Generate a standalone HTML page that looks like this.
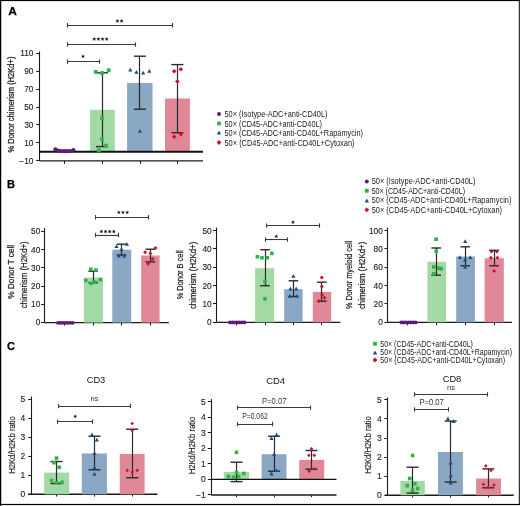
<!DOCTYPE html>
<html><head><meta charset="utf-8"><style>
html,body{margin:0;padding:0;background:#fff;}
svg{display:block;font-family:"Liberation Sans", sans-serif;}
</style></head><body><div style="will-change:transform;width:520px;height:506px">
<svg width="520" height="506" viewBox="0 0 520 506">
<rect x="0" y="0" width="520" height="506" fill="#fff"/>
<rect x="0" y="0" width="520" height="1.1" fill="#000"/>
<rect x="0" y="0" width="1.25" height="506" fill="#000"/>
<rect x="518.8" y="0" width="1.0" height="505" fill="#000"/>
<rect x="0" y="503.9" width="519.8" height="1.2000000000000455" fill="#000"/>
<text x="8.3" y="14.8" font-size="11" text-anchor="start" fill="#000" stroke="#000" stroke-width="0.25" font-weight="bold" textLength="8.6" lengthAdjust="spacingAndGlyphs">A</text>
<line x1="39.5" y1="51.5" x2="39.5" y2="160.9" stroke="#1a1a1a" stroke-width="1.1"/>
<line x1="36.2" y1="53.5" x2="39.5" y2="53.5" stroke="#1a1a1a" stroke-width="1.0"/>
<text x="33.4" y="56.16300000000001" font-size="8.3" text-anchor="end" fill="#1a1a1a" stroke="#1a1a1a" stroke-width="0.12">110</text>
<line x1="36.2" y1="71.5" x2="39.5" y2="71.5" stroke="#1a1a1a" stroke-width="1.0"/>
<text x="33.4" y="74.11300000000001" font-size="8.3" text-anchor="end" fill="#1a1a1a" stroke="#1a1a1a" stroke-width="0.12">90</text>
<line x1="36.2" y1="89.5" x2="39.5" y2="89.5" stroke="#1a1a1a" stroke-width="1.0"/>
<text x="33.4" y="92.06300000000002" font-size="8.3" text-anchor="end" fill="#1a1a1a" stroke="#1a1a1a" stroke-width="0.12">70</text>
<line x1="36.2" y1="107.5" x2="39.5" y2="107.5" stroke="#1a1a1a" stroke-width="1.0"/>
<text x="33.4" y="110.013" font-size="8.3" text-anchor="end" fill="#1a1a1a" stroke="#1a1a1a" stroke-width="0.12">50</text>
<line x1="36.2" y1="124.5" x2="39.5" y2="124.5" stroke="#1a1a1a" stroke-width="1.0"/>
<text x="33.4" y="127.96300000000001" font-size="8.3" text-anchor="end" fill="#1a1a1a" stroke="#1a1a1a" stroke-width="0.12">30</text>
<line x1="36.2" y1="142.5" x2="39.5" y2="142.5" stroke="#1a1a1a" stroke-width="1.0"/>
<text x="33.4" y="145.913" font-size="8.3" text-anchor="end" fill="#1a1a1a" stroke="#1a1a1a" stroke-width="0.12">10</text>
<line x1="36.2" y1="160.5" x2="39.5" y2="160.5" stroke="#1a1a1a" stroke-width="1.0"/>
<text x="33.4" y="163.863" font-size="8.3" text-anchor="end" fill="#1a1a1a" stroke="#1a1a1a" stroke-width="0.12">−10</text>
<line x1="39.5" y1="160.9" x2="203" y2="160.9" stroke="#1a1a1a" stroke-width="1.3"/>
<line x1="64.5" y1="160.9" x2="64.5" y2="163.9" stroke="#1a1a1a" stroke-width="1.0"/>
<line x1="102.5" y1="160.9" x2="102.5" y2="163.9" stroke="#1a1a1a" stroke-width="1.0"/>
<line x1="140.5" y1="160.9" x2="140.5" y2="163.9" stroke="#1a1a1a" stroke-width="1.0"/>
<line x1="177.5" y1="160.9" x2="177.5" y2="163.9" stroke="#1a1a1a" stroke-width="1.0"/>
<rect x="90.1" y="109.8" width="24.700000000000003" height="42.10000000000001" fill="#a3d9a5"/>
<rect x="127.1" y="82.9" width="25.400000000000006" height="69.0" fill="#8aa7c4"/>
<rect x="165" y="98.5" width="24.900000000000006" height="53.400000000000006" fill="#e08898"/>
<line x1="39.5" y1="151.8" x2="203" y2="151.8" stroke="#111" stroke-width="1.9"/>
<line x1="102.5" y1="72.8" x2="102.5" y2="146.6" stroke="#2a2a2a" stroke-width="1.2"/>
<line x1="96" y1="72.8" x2="108" y2="72.8" stroke="#2a2a2a" stroke-width="1.4"/>
<line x1="96" y1="146.6" x2="108" y2="146.6" stroke="#2a2a2a" stroke-width="1.4"/>
<line x1="139.5" y1="56.2" x2="139.5" y2="109.2" stroke="#2a2a2a" stroke-width="1.2"/>
<line x1="133.9" y1="56.2" x2="145.9" y2="56.2" stroke="#2a2a2a" stroke-width="1.4"/>
<line x1="133.9" y1="109.2" x2="145.9" y2="109.2" stroke="#2a2a2a" stroke-width="1.4"/>
<line x1="177.5" y1="64.6" x2="177.5" y2="132.7" stroke="#2a2a2a" stroke-width="1.2"/>
<line x1="171.4" y1="64.6" x2="183.4" y2="64.6" stroke="#2a2a2a" stroke-width="1.4"/>
<line x1="171.4" y1="132.7" x2="183.4" y2="132.7" stroke="#2a2a2a" stroke-width="1.4"/>
<circle cx="55.4" cy="149.3" r="2.1" fill="#5a1e78"/>
<circle cx="58.4" cy="150.6" r="2.1" fill="#5a1e78"/>
<circle cx="61.4" cy="151" r="2.1" fill="#5a1e78"/>
<circle cx="64.4" cy="151.2" r="2.1" fill="#5a1e78"/>
<circle cx="67.4" cy="151.2" r="2.1" fill="#5a1e78"/>
<circle cx="70.4" cy="151" r="2.1" fill="#5a1e78"/>
<circle cx="73.4" cy="150.2" r="2.1" fill="#5a1e78"/>
<rect x="93.89999999999999" y="70.0" width="3.8" height="3.8" fill="#2fb34a"/>
<rect x="100.1" y="71.1" width="3.8" height="3.8" fill="#2fb34a"/>
<rect x="106.8" y="68.39999999999999" width="3.8" height="3.8" fill="#2fb34a"/>
<rect x="100.1" y="116.39999999999999" width="3.8" height="3.8" fill="#2fb34a"/>
<rect x="100.1" y="137.1" width="3.8" height="3.8" fill="#2fb34a"/>
<rect x="104.1" y="143.7" width="3.8" height="3.8" fill="#2fb34a"/>
<rect x="96.89999999999999" y="148.4" width="3.8" height="3.8" fill="#2fb34a"/>
<path d="M128.20000000000002 71.49 L132.4 71.49 L130.3 67.71 Z" fill="#1b4f8e"/>
<path d="M134.3 73.79 L138.5 73.79 L136.4 70.01 Z" fill="#1b4f8e"/>
<path d="M141.0 74.49 L145.2 74.49 L143.1 70.71 Z" fill="#1b4f8e"/>
<path d="M147.20000000000002 72.69 L151.4 72.69 L149.3 68.91 Z" fill="#1b4f8e"/>
<path d="M137.8 132.79 L142.0 132.79 L139.9 129.01000000000002 Z" fill="#1b4f8e"/>
<path d="M174.2 69.0 L176.5 71.3 L174.2 73.6 L171.89999999999998 71.3 Z" fill="#cf1029"/>
<path d="M180.8 66.9 L183.10000000000002 69.2 L180.8 71.5 L178.5 69.2 Z" fill="#cf1029"/>
<path d="M177.4 79.2 L179.70000000000002 81.5 L177.4 83.8 L175.1 81.5 Z" fill="#cf1029"/>
<path d="M174.2 134.5 L176.5 136.8 L174.2 139.10000000000002 L171.89999999999998 136.8 Z" fill="#cf1029"/>
<path d="M180.8 131.79999999999998 L183.10000000000002 134.1 L180.8 136.4 L178.5 134.1 Z" fill="#cf1029"/>
<line x1="67.6" y1="25.5" x2="172.4" y2="25.5" stroke="#3a3a3a" stroke-width="1.1"/>
<line x1="67.5" y1="23.0" x2="67.5" y2="27.4" stroke="#3a3a3a" stroke-width="1.1"/>
<line x1="172.5" y1="23.0" x2="172.5" y2="27.4" stroke="#3a3a3a" stroke-width="1.1"/>
<polygon points="117.42,18.95 117.98,20.23 119.37,20.37 118.33,21.29 118.63,22.66 117.42,21.95 116.22,22.66 116.52,21.29 115.48,20.37 116.87,20.23" fill="#1a1a1a"/>
<polygon points="121.58,18.95 122.13,20.23 123.52,20.37 122.48,21.29 122.78,22.66 121.58,21.95 120.37,22.66 120.67,21.29 119.63,20.37 121.02,20.23" fill="#1a1a1a"/>
<line x1="67.6" y1="44.5" x2="135" y2="44.5" stroke="#3a3a3a" stroke-width="1.1"/>
<line x1="67.5" y1="42.3" x2="67.5" y2="46.7" stroke="#3a3a3a" stroke-width="1.1"/>
<line x1="135.5" y1="42.3" x2="135.5" y2="46.7" stroke="#3a3a3a" stroke-width="1.1"/>
<polygon points="94.28,36.95 94.83,38.23 96.22,38.37 95.18,39.29 95.48,40.66 94.28,39.95 93.07,40.66 93.37,39.29 92.33,38.37 93.72,38.23" fill="#1a1a1a"/>
<polygon points="98.42,36.95 98.98,38.23 100.37,38.37 99.33,39.29 99.63,40.66 98.42,39.95 97.22,40.66 97.52,39.29 96.48,38.37 97.87,38.23" fill="#1a1a1a"/>
<polygon points="102.58,36.95 103.13,38.23 104.52,38.37 103.48,39.29 103.78,40.66 102.58,39.95 101.37,40.66 101.67,39.29 100.63,38.37 102.02,38.23" fill="#1a1a1a"/>
<polygon points="106.72,36.95 107.28,38.23 108.67,38.37 107.63,39.29 107.93,40.66 106.72,39.95 105.52,40.66 105.82,39.29 104.78,38.37 106.17,38.23" fill="#1a1a1a"/>
<line x1="67.6" y1="61.5" x2="99.7" y2="61.5" stroke="#3a3a3a" stroke-width="1.1"/>
<line x1="67.5" y1="59.4" x2="67.5" y2="63.800000000000004" stroke="#3a3a3a" stroke-width="1.1"/>
<line x1="99.5" y1="59.4" x2="99.5" y2="63.800000000000004" stroke="#3a3a3a" stroke-width="1.1"/>
<polygon points="83.00,54.35 83.56,55.63 84.95,55.77 83.90,56.69 84.20,58.06 83.00,57.35 81.80,58.06 82.10,56.69 81.05,55.77 82.44,55.63" fill="#1a1a1a"/>
<text x="14.3" y="104.6" font-size="9.6" text-anchor="middle" fill="#222" stroke="#222" stroke-width="0.3" textLength="96" lengthAdjust="spacingAndGlyphs" transform="rotate(-90 14.3 104.6)">% Donor chimerism (H2Kd+)</text>
<circle cx="219" cy="114" r="2.0" fill="#5a1e78"/>
<text x="224.5" y="117.4" font-size="8.7" text-anchor="start" fill="#1a1a1a" textLength="103.0" lengthAdjust="spacingAndGlyphs">50× (Isotype-ADC+anti-CD40L)</text>
<rect x="217.1" y="121.6" width="3.8" height="3.8" fill="#2fb34a"/>
<text x="224.5" y="126.9" font-size="8.7" text-anchor="start" fill="#1a1a1a" textLength="97.5" lengthAdjust="spacingAndGlyphs">50× (CD45-ADC+anti-CD40L)</text>
<path d="M216.8 134.48 L221.2 134.48 L219 130.52 Z" fill="#1b4f8e"/>
<text x="224.5" y="135.9" font-size="8.7" text-anchor="start" fill="#1a1a1a" textLength="138.5" lengthAdjust="spacingAndGlyphs">50× (CD45-ADC+anti-CD40L+Rapamycin)</text>
<path d="M219 140.1 L221.4 142.5 L219 144.9 L216.6 142.5 Z" fill="#cf1029"/>
<text x="224.5" y="145.9" font-size="8.7" text-anchor="start" fill="#1a1a1a" textLength="130.0" lengthAdjust="spacingAndGlyphs">50× (CD45-ADC+anti-CD40L+Cytoxan)</text>
<text x="7" y="187.5" font-size="11" text-anchor="start" fill="#000" stroke="#000" stroke-width="0.25" font-weight="bold">B</text>
<line x1="44.5" y1="228.1" x2="44.5" y2="322.6" stroke="#1a1a1a" stroke-width="1.1"/>
<line x1="41.1" y1="231.5" x2="44.4" y2="231.5" stroke="#1a1a1a" stroke-width="1.0"/>
<text x="40.3" y="234.488" font-size="8.3" text-anchor="end" fill="#1a1a1a" stroke="#1a1a1a" stroke-width="0.12">50</text>
<line x1="41.1" y1="249.5" x2="44.4" y2="249.5" stroke="#1a1a1a" stroke-width="1.0"/>
<text x="40.3" y="252.688" font-size="8.3" text-anchor="end" fill="#1a1a1a" stroke="#1a1a1a" stroke-width="0.12">40</text>
<line x1="41.1" y1="267.5" x2="44.4" y2="267.5" stroke="#1a1a1a" stroke-width="1.0"/>
<text x="40.3" y="270.888" font-size="8.3" text-anchor="end" fill="#1a1a1a" stroke="#1a1a1a" stroke-width="0.12">30</text>
<line x1="41.1" y1="286.5" x2="44.4" y2="286.5" stroke="#1a1a1a" stroke-width="1.0"/>
<text x="40.3" y="289.088" font-size="8.3" text-anchor="end" fill="#1a1a1a" stroke="#1a1a1a" stroke-width="0.12">20</text>
<line x1="41.1" y1="304.5" x2="44.4" y2="304.5" stroke="#1a1a1a" stroke-width="1.0"/>
<text x="40.3" y="307.288" font-size="8.3" text-anchor="end" fill="#1a1a1a" stroke="#1a1a1a" stroke-width="0.12">10</text>
<line x1="41.1" y1="322.5" x2="44.4" y2="322.5" stroke="#1a1a1a" stroke-width="1.0"/>
<text x="40.3" y="325.488" font-size="8.3" text-anchor="end" fill="#1a1a1a" stroke="#1a1a1a" stroke-width="0.12">0</text>
<line x1="44.4" y1="322.6" x2="168.75" y2="322.6" stroke="#1a1a1a" stroke-width="1.3"/>
<line x1="64.5" y1="322.6" x2="64.5" y2="325.6" stroke="#1a1a1a" stroke-width="1.0"/>
<line x1="93.5" y1="322.6" x2="93.5" y2="325.6" stroke="#1a1a1a" stroke-width="1.0"/>
<line x1="121.5" y1="322.6" x2="121.5" y2="325.6" stroke="#1a1a1a" stroke-width="1.0"/>
<line x1="150.5" y1="322.6" x2="150.5" y2="325.6" stroke="#1a1a1a" stroke-width="1.0"/>
<rect x="83.9" y="277.6" width="19.19999999999999" height="45.0" fill="#a3d9a5"/>
<rect x="112.3" y="249.7" width="18.89999999999999" height="72.90000000000003" fill="#8aa7c4"/>
<rect x="141.2" y="255.5" width="18.400000000000006" height="67.10000000000002" fill="#e08898"/>
<line x1="93.5" y1="271.2" x2="93.5" y2="282.7" stroke="#2a2a2a" stroke-width="1.2"/>
<line x1="88.4" y1="271.2" x2="98.0" y2="271.2" stroke="#2a2a2a" stroke-width="1.4"/>
<line x1="88.4" y1="282.7" x2="98.0" y2="282.7" stroke="#2a2a2a" stroke-width="1.4"/>
<line x1="121.5" y1="244.2" x2="121.5" y2="255" stroke="#2a2a2a" stroke-width="1.2"/>
<line x1="116.7" y1="244.2" x2="126.3" y2="244.2" stroke="#2a2a2a" stroke-width="1.4"/>
<line x1="116.7" y1="255" x2="126.3" y2="255" stroke="#2a2a2a" stroke-width="1.4"/>
<line x1="150.5" y1="249.2" x2="150.5" y2="261.9" stroke="#2a2a2a" stroke-width="1.2"/>
<line x1="145.6" y1="249.2" x2="155.20000000000002" y2="249.2" stroke="#2a2a2a" stroke-width="1.4"/>
<line x1="145.6" y1="261.9" x2="155.20000000000002" y2="261.9" stroke="#2a2a2a" stroke-width="1.4"/>
<circle cx="58.0" cy="322.8" r="1.9" fill="#5a1e78"/>
<circle cx="60.45" cy="322.8" r="1.9" fill="#5a1e78"/>
<circle cx="62.9" cy="322.8" r="1.9" fill="#5a1e78"/>
<circle cx="65.35" cy="322.8" r="1.9" fill="#5a1e78"/>
<circle cx="67.8" cy="322.8" r="1.9" fill="#5a1e78"/>
<circle cx="70.25" cy="322.8" r="1.9" fill="#5a1e78"/>
<circle cx="72.7" cy="322.8" r="1.9" fill="#5a1e78"/>
<rect x="89.0" y="267.5" width="3.6" height="3.6" fill="#2fb34a"/>
<rect x="94.10000000000001" y="268.2" width="3.6" height="3.6" fill="#2fb34a"/>
<rect x="84.0" y="278.59999999999997" width="3.6" height="3.6" fill="#2fb34a"/>
<rect x="98.5" y="277.9" width="3.6" height="3.6" fill="#2fb34a"/>
<rect x="89.3" y="281.59999999999997" width="3.6" height="3.6" fill="#2fb34a"/>
<rect x="93.2" y="280.4" width="3.6" height="3.6" fill="#2fb34a"/>
<path d="M114.4 248.08999999999997 L118.6 248.08999999999997 L116.5 244.31 Z" fill="#1b4f8e"/>
<path d="M124.80000000000001 245.79 L129.0 245.79 L126.9 242.01000000000002 Z" fill="#1b4f8e"/>
<path d="M119.4 250.69 L123.6 250.69 L121.5 246.91000000000003 Z" fill="#1b4f8e"/>
<path d="M116.7 257.59 L120.89999999999999 257.59 L118.8 253.81 Z" fill="#1b4f8e"/>
<path d="M122.2 257.59 L126.39999999999999 257.59 L124.3 253.81 Z" fill="#1b4f8e"/>
<path d="M155.5 246.1 L157.5 248.1 L155.5 250.1 L153.5 248.1 Z" fill="#cf1029"/>
<path d="M145.1 250.2 L147.1 252.2 L145.1 254.2 L143.1 252.2 Z" fill="#cf1029"/>
<path d="M150.4 251.4 L152.4 253.4 L150.4 255.4 L148.4 253.4 Z" fill="#cf1029"/>
<path d="M152.7 256.9 L154.7 258.9 L152.7 260.9 L150.7 258.9 Z" fill="#cf1029"/>
<path d="M148.1 261.8 L150.1 263.8 L148.1 265.8 L146.1 263.8 Z" fill="#cf1029"/>
<line x1="95.6" y1="217.5" x2="148.75" y2="217.5" stroke="#3a3a3a" stroke-width="1.1"/>
<line x1="95.5" y1="215.05" x2="95.5" y2="219.45" stroke="#3a3a3a" stroke-width="1.1"/>
<line x1="148.5" y1="215.05" x2="148.5" y2="219.45" stroke="#3a3a3a" stroke-width="1.1"/>
<polygon points="118.85,210.35 119.41,211.63 120.80,211.77 119.75,212.69 120.05,214.06 118.85,213.35 117.65,214.06 117.95,212.69 116.90,211.77 118.29,211.63" fill="#1a1a1a"/>
<polygon points="123.00,210.35 123.56,211.63 124.95,211.77 123.90,212.69 124.20,214.06 123.00,213.35 121.80,214.06 122.10,212.69 121.05,211.77 122.44,211.63" fill="#1a1a1a"/>
<polygon points="127.15,210.35 127.71,211.63 129.10,211.77 128.05,212.69 128.35,214.06 127.15,213.35 125.95,214.06 126.25,212.69 125.20,211.77 126.59,211.63" fill="#1a1a1a"/>
<line x1="95.6" y1="235.5" x2="118.5" y2="235.5" stroke="#3a3a3a" stroke-width="1.1"/>
<line x1="95.5" y1="232.8" x2="95.5" y2="237.2" stroke="#3a3a3a" stroke-width="1.1"/>
<line x1="118.5" y1="232.8" x2="118.5" y2="237.2" stroke="#3a3a3a" stroke-width="1.1"/>
<polygon points="101.38,229.45 101.93,230.73 103.32,230.87 102.28,231.79 102.58,233.16 101.38,232.45 100.17,233.16 100.47,231.79 99.43,230.87 100.82,230.73" fill="#1a1a1a"/>
<polygon points="105.52,229.45 106.08,230.73 107.47,230.87 106.43,231.79 106.73,233.16 105.52,232.45 104.32,233.16 104.62,231.79 103.58,230.87 104.97,230.73" fill="#1a1a1a"/>
<polygon points="109.67,229.45 110.23,230.73 111.62,230.87 110.58,231.79 110.88,233.16 109.67,232.45 108.47,233.16 108.77,231.79 107.73,230.87 109.12,230.73" fill="#1a1a1a"/>
<polygon points="113.82,229.45 114.38,230.73 115.77,230.87 114.73,231.79 115.03,233.16 113.82,232.45 112.62,233.16 112.92,231.79 111.88,230.87 113.27,230.73" fill="#1a1a1a"/>
<text x="14.399999999999999" y="271.8" font-size="9.8" text-anchor="middle" fill="#222" stroke="#222" stroke-width="0.25" textLength="54" lengthAdjust="spacingAndGlyphs" transform="rotate(-90 14.399999999999999 271.8)">% Donor T cell</text>
<text x="26.9" y="274.8" font-size="9.8" text-anchor="middle" fill="#222" stroke="#222" stroke-width="0.25" textLength="67" lengthAdjust="spacingAndGlyphs" transform="rotate(-90 26.9 274.8)">chimerism (H2Kd+)</text>
<line x1="216.5" y1="227.6" x2="216.5" y2="322.3" stroke="#1a1a1a" stroke-width="1.1"/>
<line x1="213.0" y1="230.5" x2="216.3" y2="230.5" stroke="#1a1a1a" stroke-width="1.0"/>
<text x="211.7" y="233.58799999999997" font-size="8.3" text-anchor="end" fill="#1a1a1a" stroke="#1a1a1a" stroke-width="0.12">50</text>
<line x1="213.0" y1="248.5" x2="216.3" y2="248.5" stroke="#1a1a1a" stroke-width="1.0"/>
<text x="211.7" y="251.908" font-size="8.3" text-anchor="end" fill="#1a1a1a" stroke="#1a1a1a" stroke-width="0.12">40</text>
<line x1="213.0" y1="267.5" x2="216.3" y2="267.5" stroke="#1a1a1a" stroke-width="1.0"/>
<text x="211.7" y="270.228" font-size="8.3" text-anchor="end" fill="#1a1a1a" stroke="#1a1a1a" stroke-width="0.12">30</text>
<line x1="213.0" y1="285.5" x2="216.3" y2="285.5" stroke="#1a1a1a" stroke-width="1.0"/>
<text x="211.7" y="288.548" font-size="8.3" text-anchor="end" fill="#1a1a1a" stroke="#1a1a1a" stroke-width="0.12">20</text>
<line x1="213.0" y1="303.5" x2="216.3" y2="303.5" stroke="#1a1a1a" stroke-width="1.0"/>
<text x="211.7" y="306.868" font-size="8.3" text-anchor="end" fill="#1a1a1a" stroke="#1a1a1a" stroke-width="0.12">10</text>
<line x1="213.0" y1="322.5" x2="216.3" y2="322.5" stroke="#1a1a1a" stroke-width="1.0"/>
<text x="211.7" y="325.188" font-size="8.3" text-anchor="end" fill="#1a1a1a" stroke="#1a1a1a" stroke-width="0.12">0</text>
<line x1="216.3" y1="322.3" x2="340.4" y2="322.3" stroke="#1a1a1a" stroke-width="1.3"/>
<line x1="236.5" y1="322.3" x2="236.5" y2="325.3" stroke="#1a1a1a" stroke-width="1.0"/>
<line x1="265.5" y1="322.3" x2="265.5" y2="325.3" stroke="#1a1a1a" stroke-width="1.0"/>
<line x1="293.5" y1="322.3" x2="293.5" y2="325.3" stroke="#1a1a1a" stroke-width="1.0"/>
<line x1="321.5" y1="322.3" x2="321.5" y2="325.3" stroke="#1a1a1a" stroke-width="1.0"/>
<rect x="255.1" y="268.2" width="19.099999999999994" height="54.10000000000002" fill="#a3d9a5"/>
<rect x="284.2" y="289.2" width="18.400000000000034" height="33.10000000000002" fill="#8aa7c4"/>
<rect x="312.8" y="291.9" width="18.399999999999977" height="30.400000000000034" fill="#e08898"/>
<line x1="265.5" y1="249.7" x2="265.5" y2="285.7" stroke="#2a2a2a" stroke-width="1.2"/>
<line x1="260.2" y1="249.7" x2="269.8" y2="249.7" stroke="#2a2a2a" stroke-width="1.4"/>
<line x1="260.2" y1="285.7" x2="269.8" y2="285.7" stroke="#2a2a2a" stroke-width="1.4"/>
<line x1="293.5" y1="280.8" x2="293.5" y2="296.5" stroke="#2a2a2a" stroke-width="1.2"/>
<line x1="288.59999999999997" y1="280.8" x2="298.2" y2="280.8" stroke="#2a2a2a" stroke-width="1.4"/>
<line x1="288.59999999999997" y1="296.5" x2="298.2" y2="296.5" stroke="#2a2a2a" stroke-width="1.4"/>
<line x1="321.5" y1="282.2" x2="321.5" y2="301.2" stroke="#2a2a2a" stroke-width="1.2"/>
<line x1="317.0" y1="282.2" x2="326.6" y2="282.2" stroke="#2a2a2a" stroke-width="1.4"/>
<line x1="317.0" y1="301.2" x2="326.6" y2="301.2" stroke="#2a2a2a" stroke-width="1.4"/>
<circle cx="230.0" cy="322.4" r="1.9" fill="#5a1e78"/>
<circle cx="232.4" cy="322.4" r="1.9" fill="#5a1e78"/>
<circle cx="234.8" cy="322.4" r="1.9" fill="#5a1e78"/>
<circle cx="237.2" cy="322.4" r="1.9" fill="#5a1e78"/>
<circle cx="239.6" cy="322.4" r="1.9" fill="#5a1e78"/>
<circle cx="242.0" cy="322.4" r="1.9" fill="#5a1e78"/>
<circle cx="244.4" cy="322.4" r="1.9" fill="#5a1e78"/>
<rect x="255.59999999999997" y="255.0" width="3.6" height="3.6" fill="#2fb34a"/>
<rect x="260.2" y="256.0" width="3.6" height="3.6" fill="#2fb34a"/>
<rect x="265.5" y="256.0" width="3.6" height="3.6" fill="#2fb34a"/>
<rect x="270.09999999999997" y="251.6" width="3.6" height="3.6" fill="#2fb34a"/>
<rect x="263.2" y="279.7" width="3.6" height="3.6" fill="#2fb34a"/>
<rect x="263.2" y="297.0" width="3.6" height="3.6" fill="#2fb34a"/>
<path d="M291.29999999999995 277.69 L295.5 277.69 L293.4 273.91 Z" fill="#1b4f8e"/>
<path d="M288.29999999999995 290.39 L292.5 290.39 L290.4 286.61 Z" fill="#1b4f8e"/>
<path d="M294.09999999999997 290.39 L298.3 290.39 L296.2 286.61 Z" fill="#1b4f8e"/>
<path d="M287.59999999999997 297.69 L291.8 297.69 L289.7 293.91 Z" fill="#1b4f8e"/>
<path d="M294.79999999999995 297.69 L299.0 297.69 L296.9 293.91 Z" fill="#1b4f8e"/>
<path d="M321.8 275.4 L323.8 277.4 L321.8 279.4 L319.8 277.4 Z" fill="#cf1029"/>
<path d="M321.8 284.6 L323.8 286.6 L321.8 288.6 L319.8 286.6 Z" fill="#cf1029"/>
<path d="M322.2 292.7 L324.2 294.7 L322.2 296.7 L320.2 294.7 Z" fill="#cf1029"/>
<path d="M324.5 295.7 L326.5 297.7 L324.5 299.7 L322.5 297.7 Z" fill="#cf1029"/>
<path d="M318.8 299.2 L320.8 301.2 L318.8 303.2 L316.8 301.2 Z" fill="#cf1029"/>
<line x1="266.5" y1="225.5" x2="319.25" y2="225.5" stroke="#3a3a3a" stroke-width="1.1"/>
<line x1="266.5" y1="223.4" x2="266.5" y2="227.79999999999998" stroke="#3a3a3a" stroke-width="1.1"/>
<line x1="319.5" y1="223.4" x2="319.5" y2="227.79999999999998" stroke="#3a3a3a" stroke-width="1.1"/>
<polygon points="293.00,220.15 293.56,221.43 294.95,221.57 293.90,222.49 294.20,223.86 293.00,223.15 291.80,223.86 292.10,222.49 291.05,221.57 292.44,221.43" fill="#1a1a1a"/>
<line x1="265.5" y1="239.5" x2="287.5" y2="239.5" stroke="#3a3a3a" stroke-width="1.1"/>
<line x1="265.5" y1="237.4" x2="265.5" y2="241.79999999999998" stroke="#3a3a3a" stroke-width="1.1"/>
<line x1="287.5" y1="237.4" x2="287.5" y2="241.79999999999998" stroke="#3a3a3a" stroke-width="1.1"/>
<polygon points="276.30,234.35 276.86,235.63 278.25,235.77 277.20,236.69 277.50,238.06 276.30,237.35 275.10,238.06 275.40,236.69 274.35,235.77 275.74,235.63" fill="#1a1a1a"/>
<text x="183.0" y="274.8" font-size="9.8" text-anchor="middle" fill="#222" stroke="#222" stroke-width="0.25" textLength="49" lengthAdjust="spacingAndGlyphs" transform="rotate(-90 183.0 274.8)">% Donor B cell</text>
<text x="196.0" y="275.4" font-size="9.8" text-anchor="middle" fill="#222" stroke="#222" stroke-width="0.25" textLength="67.4" lengthAdjust="spacingAndGlyphs" transform="rotate(-90 196.0 275.4)">chimerism (H2Kd+)</text>
<line x1="387.5" y1="227.6" x2="387.5" y2="322.3" stroke="#1a1a1a" stroke-width="1.1"/>
<line x1="384.5" y1="230.5" x2="387.8" y2="230.5" stroke="#1a1a1a" stroke-width="1.0"/>
<text x="382.8" y="233.58799999999997" font-size="8.3" text-anchor="end" fill="#1a1a1a" stroke="#1a1a1a" stroke-width="0.12">100</text>
<line x1="384.5" y1="248.5" x2="387.8" y2="248.5" stroke="#1a1a1a" stroke-width="1.0"/>
<text x="382.8" y="251.908" font-size="8.3" text-anchor="end" fill="#1a1a1a" stroke="#1a1a1a" stroke-width="0.12">80</text>
<line x1="384.5" y1="267.5" x2="387.8" y2="267.5" stroke="#1a1a1a" stroke-width="1.0"/>
<text x="382.8" y="270.228" font-size="8.3" text-anchor="end" fill="#1a1a1a" stroke="#1a1a1a" stroke-width="0.12">60</text>
<line x1="384.5" y1="285.5" x2="387.8" y2="285.5" stroke="#1a1a1a" stroke-width="1.0"/>
<text x="382.8" y="288.548" font-size="8.3" text-anchor="end" fill="#1a1a1a" stroke="#1a1a1a" stroke-width="0.12">40</text>
<line x1="384.5" y1="303.5" x2="387.8" y2="303.5" stroke="#1a1a1a" stroke-width="1.0"/>
<text x="382.8" y="306.868" font-size="8.3" text-anchor="end" fill="#1a1a1a" stroke="#1a1a1a" stroke-width="0.12">20</text>
<line x1="384.5" y1="322.5" x2="387.8" y2="322.5" stroke="#1a1a1a" stroke-width="1.0"/>
<text x="382.8" y="325.188" font-size="8.3" text-anchor="end" fill="#1a1a1a" stroke="#1a1a1a" stroke-width="0.12">0</text>
<line x1="387.8" y1="322.3" x2="512" y2="322.3" stroke="#1a1a1a" stroke-width="1.3"/>
<line x1="407.5" y1="322.3" x2="407.5" y2="325.3" stroke="#1a1a1a" stroke-width="1.0"/>
<line x1="436.5" y1="322.3" x2="436.5" y2="325.3" stroke="#1a1a1a" stroke-width="1.0"/>
<line x1="465.5" y1="322.3" x2="465.5" y2="325.3" stroke="#1a1a1a" stroke-width="1.0"/>
<line x1="494.5" y1="322.3" x2="494.5" y2="325.3" stroke="#1a1a1a" stroke-width="1.0"/>
<rect x="427.4" y="261.8" width="18.700000000000045" height="60.5" fill="#a3d9a5"/>
<rect x="456.2" y="256.5" width="18.69999999999999" height="65.80000000000001" fill="#8aa7c4"/>
<rect x="484.6" y="258.2" width="19.19999999999999" height="64.10000000000002" fill="#e08898"/>
<line x1="436.5" y1="248" x2="436.5" y2="275.2" stroke="#2a2a2a" stroke-width="1.2"/>
<line x1="431.4" y1="248" x2="441.0" y2="248" stroke="#2a2a2a" stroke-width="1.4"/>
<line x1="431.4" y1="275.2" x2="441.0" y2="275.2" stroke="#2a2a2a" stroke-width="1.4"/>
<line x1="465.5" y1="246.8" x2="465.5" y2="265.8" stroke="#2a2a2a" stroke-width="1.2"/>
<line x1="460.4" y1="246.8" x2="470.0" y2="246.8" stroke="#2a2a2a" stroke-width="1.4"/>
<line x1="460.4" y1="265.8" x2="470.0" y2="265.8" stroke="#2a2a2a" stroke-width="1.4"/>
<line x1="494.5" y1="250.3" x2="494.5" y2="265.8" stroke="#2a2a2a" stroke-width="1.2"/>
<line x1="489.3" y1="250.3" x2="498.90000000000003" y2="250.3" stroke="#2a2a2a" stroke-width="1.4"/>
<line x1="489.3" y1="265.8" x2="498.90000000000003" y2="265.8" stroke="#2a2a2a" stroke-width="1.4"/>
<circle cx="401.3" cy="322.4" r="1.9" fill="#5a1e78"/>
<circle cx="403.7" cy="322.4" r="1.9" fill="#5a1e78"/>
<circle cx="406.1" cy="322.4" r="1.9" fill="#5a1e78"/>
<circle cx="408.5" cy="322.4" r="1.9" fill="#5a1e78"/>
<circle cx="410.90000000000003" cy="322.4" r="1.9" fill="#5a1e78"/>
<circle cx="413.3" cy="322.4" r="1.9" fill="#5a1e78"/>
<circle cx="415.7" cy="322.4" r="1.9" fill="#5a1e78"/>
<rect x="434.4" y="237.39999999999998" width="3.6" height="3.6" fill="#2fb34a"/>
<rect x="434.4" y="249.39999999999998" width="3.6" height="3.6" fill="#2fb34a"/>
<rect x="432.0" y="265.09999999999997" width="3.6" height="3.6" fill="#2fb34a"/>
<rect x="437.09999999999997" y="266.3" width="3.6" height="3.6" fill="#2fb34a"/>
<rect x="439.4" y="267.0" width="3.6" height="3.6" fill="#2fb34a"/>
<rect x="432.0" y="272.0" width="3.6" height="3.6" fill="#2fb34a"/>
<path d="M463.09999999999997 242.98999999999998 L467.3 242.98999999999998 L465.2 239.21 Z" fill="#1b4f8e"/>
<path d="M457.79999999999995 259.09 L462.0 259.09 L459.9 255.31 Z" fill="#1b4f8e"/>
<path d="M462.9 261.39 L467.1 261.39 L465 257.61 Z" fill="#1b4f8e"/>
<path d="M468.2 259.09 L472.40000000000003 259.09 L470.3 255.31 Z" fill="#1b4f8e"/>
<path d="M463.09999999999997 268.78999999999996 L467.3 268.78999999999996 L465.2 265.01 Z" fill="#1b4f8e"/>
<path d="M491.5 249.5 L493.5 251.5 L491.5 253.5 L489.5 251.5 Z" fill="#cf1029"/>
<path d="M496.9 249.5 L498.9 251.5 L496.9 253.5 L494.9 251.5 Z" fill="#cf1029"/>
<path d="M490.9 255.7 L492.9 257.7 L490.9 259.7 L488.9 257.7 Z" fill="#cf1029"/>
<path d="M497.3 255.7 L499.3 257.7 L497.3 259.7 L495.3 257.7 Z" fill="#cf1029"/>
<path d="M494.1 269.1 L496.1 271.1 L494.1 273.1 L492.1 271.1 Z" fill="#cf1029"/>
<text x="352.3" y="274.9" font-size="9.8" text-anchor="middle" fill="#222" stroke="#222" stroke-width="0.25" textLength="68.4" lengthAdjust="spacingAndGlyphs" transform="rotate(-90 352.3 274.9)">% Donor myeloid cell</text>
<text x="365.4" y="275.4" font-size="9.8" text-anchor="middle" fill="#222" stroke="#222" stroke-width="0.25" textLength="67.4" lengthAdjust="spacingAndGlyphs" transform="rotate(-90 365.4 275.4)">chimerism (H2Kd+)</text>
<circle cx="366.8" cy="181.5" r="2.0" fill="#5a1e78"/>
<text x="371.7" y="184.3" font-size="8.7" text-anchor="start" fill="#1a1a1a" textLength="103.69999999999999" lengthAdjust="spacingAndGlyphs">50× (Isotype-ADC+anti-CD40L)</text>
<rect x="364.90000000000003" y="188.9" width="3.8" height="3.8" fill="#2fb34a"/>
<text x="371.7" y="193.60000000000002" font-size="8.7" text-anchor="start" fill="#1a1a1a" textLength="93.30000000000001" lengthAdjust="spacingAndGlyphs">50× (CD45-ADC+anti-CD40L)</text>
<path d="M364.6 202.57999999999998 L369.0 202.57999999999998 L366.8 198.62 Z" fill="#1b4f8e"/>
<text x="371.7" y="203.4" font-size="8.7" text-anchor="start" fill="#1a1a1a" textLength="139.7" lengthAdjust="spacingAndGlyphs">50× (CD45-ADC+anti-CD40L+Rapamycin)</text>
<path d="M366.8 207.4 L369.2 209.8 L366.8 212.20000000000002 L364.40000000000003 209.8 Z" fill="#cf1029"/>
<text x="371.7" y="212.60000000000002" font-size="8.7" text-anchor="start" fill="#1a1a1a" textLength="130.3" lengthAdjust="spacingAndGlyphs">50× (CD45-ADC+anti-CD40L+Cytoxan)</text>
<text x="7" y="349.9" font-size="11" text-anchor="start" fill="#000" stroke="#000" stroke-width="0.25" font-weight="bold">C</text>
<rect x="373.1" y="341.90000000000003" width="3.8" height="3.8" fill="#2fb34a"/>
<text x="380.3" y="346.6" font-size="8.7" text-anchor="start" fill="#1a1a1a" textLength="92.59999999999997" lengthAdjust="spacingAndGlyphs">50× (CD45-ADC+anti-CD40L)</text>
<path d="M372.8 354.38 L377.2 354.38 L375 350.41999999999996 Z" fill="#1b4f8e"/>
<text x="380.3" y="355.2" font-size="8.7" text-anchor="start" fill="#1a1a1a" textLength="131.7" lengthAdjust="spacingAndGlyphs">50× (CD45-ADC+anti-CD40L+Rapamycin)</text>
<path d="M375 357.6 L377.4 360 L375 362.4 L372.6 360 Z" fill="#cf1029"/>
<text x="380.3" y="362.8" font-size="8.7" text-anchor="start" fill="#1a1a1a" textLength="124.89999999999998" lengthAdjust="spacingAndGlyphs">50× (CD45-ADC+anti-CD40L+Cytoxan)</text>
<text x="96" y="383" font-size="9.6" text-anchor="middle" fill="#111" textLength="18.6" lengthAdjust="spacingAndGlyphs">CD3</text>
<line x1="31.5" y1="396.5" x2="31.5" y2="494.3" stroke="#1a1a1a" stroke-width="1.1"/>
<line x1="28.2" y1="399.5" x2="31.5" y2="399.5" stroke="#1a1a1a" stroke-width="1.0"/>
<text x="25.2" y="402.36" font-size="8.5" text-anchor="end" fill="#1a1a1a" stroke="#1a1a1a" stroke-width="0.12">5</text>
<line x1="28.2" y1="418.5" x2="31.5" y2="418.5" stroke="#1a1a1a" stroke-width="1.0"/>
<text x="25.2" y="421.32" font-size="8.5" text-anchor="end" fill="#1a1a1a" stroke="#1a1a1a" stroke-width="0.12">4</text>
<line x1="28.2" y1="437.5" x2="31.5" y2="437.5" stroke="#1a1a1a" stroke-width="1.0"/>
<text x="25.2" y="440.28000000000003" font-size="8.5" text-anchor="end" fill="#1a1a1a" stroke="#1a1a1a" stroke-width="0.12">3</text>
<line x1="28.2" y1="456.5" x2="31.5" y2="456.5" stroke="#1a1a1a" stroke-width="1.0"/>
<text x="25.2" y="459.24" font-size="8.5" text-anchor="end" fill="#1a1a1a" stroke="#1a1a1a" stroke-width="0.12">2</text>
<line x1="28.2" y1="475.5" x2="31.5" y2="475.5" stroke="#1a1a1a" stroke-width="1.0"/>
<text x="25.2" y="478.20000000000005" font-size="8.5" text-anchor="end" fill="#1a1a1a" stroke="#1a1a1a" stroke-width="0.12">1</text>
<line x1="28.2" y1="494.5" x2="31.5" y2="494.5" stroke="#1a1a1a" stroke-width="1.0"/>
<text x="25.2" y="497.16" font-size="8.5" text-anchor="end" fill="#1a1a1a" stroke="#1a1a1a" stroke-width="0.12">0</text>
<line x1="28" y1="494.3" x2="157.5" y2="494.3" stroke="#1a1a1a" stroke-width="1.5"/>
<line x1="56.5" y1="494.3" x2="56.5" y2="496.6" stroke="#1a1a1a" stroke-width="1.0"/>
<line x1="94.5" y1="494.3" x2="94.5" y2="496.6" stroke="#1a1a1a" stroke-width="1.0"/>
<line x1="132.5" y1="494.3" x2="132.5" y2="496.6" stroke="#1a1a1a" stroke-width="1.0"/>
<rect x="44.2" y="472.6" width="25.0" height="21.69999999999999" fill="#a3d9a5"/>
<rect x="81.8" y="453.5" width="25.200000000000003" height="40.80000000000001" fill="#8aa7c4"/>
<rect x="119.7" y="453.9" width="24.89999999999999" height="40.400000000000034" fill="#e08898"/>
<line x1="56.5" y1="461.5" x2="56.5" y2="483.5" stroke="#2a2a2a" stroke-width="1.2"/>
<line x1="50.5" y1="461.5" x2="62.5" y2="461.5" stroke="#2a2a2a" stroke-width="1.4"/>
<line x1="50.5" y1="483.5" x2="62.5" y2="483.5" stroke="#2a2a2a" stroke-width="1.4"/>
<line x1="94.5" y1="436.2" x2="94.5" y2="469.8" stroke="#2a2a2a" stroke-width="1.2"/>
<line x1="88.5" y1="436.2" x2="100.5" y2="436.2" stroke="#2a2a2a" stroke-width="1.4"/>
<line x1="88.5" y1="469.8" x2="100.5" y2="469.8" stroke="#2a2a2a" stroke-width="1.4"/>
<line x1="132.5" y1="429.2" x2="132.5" y2="477.7" stroke="#2a2a2a" stroke-width="1.2"/>
<line x1="126.19999999999999" y1="429.2" x2="138.2" y2="429.2" stroke="#2a2a2a" stroke-width="1.4"/>
<line x1="126.19999999999999" y1="477.7" x2="138.2" y2="477.7" stroke="#2a2a2a" stroke-width="1.4"/>
<rect x="54.7" y="456.3" width="3.6" height="3.6" fill="#2fb34a"/>
<rect x="52.1" y="460.9" width="3.6" height="3.6" fill="#2fb34a"/>
<rect x="57.400000000000006" y="465.5" width="3.6" height="3.6" fill="#2fb34a"/>
<rect x="49.800000000000004" y="478.7" width="3.6" height="3.6" fill="#2fb34a"/>
<rect x="54.7" y="481.0" width="3.6" height="3.6" fill="#2fb34a"/>
<rect x="60.2" y="480.5" width="3.6" height="3.6" fill="#2fb34a"/>
<path d="M89.9 436.39 L94.1 436.39 L92 432.61 Z" fill="#1b4f8e"/>
<path d="M94.80000000000001 441.49 L99.0 441.49 L96.9 437.71000000000004 Z" fill="#1b4f8e"/>
<path d="M92.4 454.89 L96.6 454.89 L94.5 451.11 Z" fill="#1b4f8e"/>
<path d="M92.4 469.19 L96.6 469.19 L94.5 465.41 Z" fill="#1b4f8e"/>
<path d="M92.4 475.69 L96.6 475.69 L94.5 471.91 Z" fill="#1b4f8e"/>
<path d="M132.2 421.65 L134.04999999999998 423.5 L132.2 425.35 L130.35 423.5 Z" fill="#cf1029"/>
<path d="M132.2 428.54999999999995 L134.04999999999998 430.4 L132.2 432.25 L130.35 430.4 Z" fill="#cf1029"/>
<path d="M127.3 468.45 L129.15 470.3 L127.3 472.15000000000003 L125.45 470.3 Z" fill="#cf1029"/>
<path d="M137.2 468.45 L139.04999999999998 470.3 L137.2 472.15000000000003 L135.35 470.3 Z" fill="#cf1029"/>
<path d="M132.2 470.04999999999995 L134.04999999999998 471.9 L132.2 473.75 L130.35 471.9 Z" fill="#cf1029"/>
<line x1="58.5" y1="406.5" x2="130.5" y2="406.5" stroke="#3a3a3a" stroke-width="1.1"/>
<line x1="58.5" y1="403.8" x2="58.5" y2="408.2" stroke="#3a3a3a" stroke-width="1.1"/>
<line x1="130.5" y1="403.8" x2="130.5" y2="408.2" stroke="#3a3a3a" stroke-width="1.1"/>
<text x="94.5" y="401" font-size="7.6" text-anchor="middle" fill="#333">ns</text>
<line x1="57.9" y1="421.5" x2="92.1" y2="421.5" stroke="#3a3a3a" stroke-width="1.1"/>
<line x1="57.5" y1="419.5" x2="57.5" y2="423.9" stroke="#3a3a3a" stroke-width="1.1"/>
<line x1="92.5" y1="419.5" x2="92.5" y2="423.9" stroke="#3a3a3a" stroke-width="1.1"/>
<polygon points="75.20,414.35 75.76,415.63 77.15,415.77 76.10,416.69 76.40,418.06 75.20,417.35 74.00,418.06 74.30,416.69 73.25,415.77 74.64,415.63" fill="#1a1a1a"/>
<text x="15.2" y="445" font-size="9.6" text-anchor="middle" fill="#1a1a1a" stroke="#1a1a1a" stroke-width="0.15" textLength="57.7" lengthAdjust="spacingAndGlyphs" transform="rotate(-90 15.2 445)">H2Kd/H2Kb ratio</text>
<text x="275.6" y="383.7" font-size="9.6" text-anchor="middle" fill="#111" textLength="18.8" lengthAdjust="spacingAndGlyphs">CD4</text>
<line x1="211.5" y1="399.1" x2="211.5" y2="494.8" stroke="#1a1a1a" stroke-width="1.1"/>
<line x1="207.79999999999998" y1="401.5" x2="211.1" y2="401.5" stroke="#1a1a1a" stroke-width="1.0"/>
<text x="205.7" y="404.91" font-size="8.5" text-anchor="end" fill="#1a1a1a" stroke="#1a1a1a" stroke-width="0.12">5</text>
<line x1="207.79999999999998" y1="417.5" x2="211.1" y2="417.5" stroke="#1a1a1a" stroke-width="1.0"/>
<text x="205.7" y="420.36" font-size="8.5" text-anchor="end" fill="#1a1a1a" stroke="#1a1a1a" stroke-width="0.12">4</text>
<line x1="207.79999999999998" y1="432.5" x2="211.1" y2="432.5" stroke="#1a1a1a" stroke-width="1.0"/>
<text x="205.7" y="435.81" font-size="8.5" text-anchor="end" fill="#1a1a1a" stroke="#1a1a1a" stroke-width="0.12">3</text>
<line x1="207.79999999999998" y1="448.5" x2="211.1" y2="448.5" stroke="#1a1a1a" stroke-width="1.0"/>
<text x="205.7" y="451.26000000000005" font-size="8.5" text-anchor="end" fill="#1a1a1a" stroke="#1a1a1a" stroke-width="0.12">2</text>
<line x1="207.79999999999998" y1="463.5" x2="211.1" y2="463.5" stroke="#1a1a1a" stroke-width="1.0"/>
<text x="205.7" y="466.71000000000004" font-size="8.5" text-anchor="end" fill="#1a1a1a" stroke="#1a1a1a" stroke-width="0.12">1</text>
<line x1="207.79999999999998" y1="479.5" x2="211.1" y2="479.5" stroke="#1a1a1a" stroke-width="1.0"/>
<text x="205.7" y="482.16" font-size="8.5" text-anchor="end" fill="#1a1a1a" stroke="#1a1a1a" stroke-width="0.12">0</text>
<line x1="207.79999999999998" y1="494.5" x2="211.1" y2="494.5" stroke="#1a1a1a" stroke-width="1.0"/>
<text x="205.7" y="497.61" font-size="8.5" text-anchor="end" fill="#1a1a1a" stroke="#1a1a1a" stroke-width="0.12">−1</text>
<line x1="211.1" y1="495.1" x2="336.5" y2="495.1" stroke="#1a1a1a" stroke-width="1.5"/>
<line x1="236.5" y1="495.1" x2="236.5" y2="497.1" stroke="#1a1a1a" stroke-width="1.0"/>
<line x1="274.5" y1="495.1" x2="274.5" y2="497.1" stroke="#1a1a1a" stroke-width="1.0"/>
<line x1="311.5" y1="495.1" x2="311.5" y2="497.1" stroke="#1a1a1a" stroke-width="1.0"/>
<rect x="223.8" y="471.9" width="25.399999999999977" height="7.400000000000034" fill="#a3d9a5"/>
<rect x="261.6" y="454.2" width="24.899999999999977" height="25.100000000000023" fill="#8aa7c4"/>
<rect x="299.2" y="459.9" width="25.0" height="19.400000000000034" fill="#e08898"/>
<line x1="211.1" y1="479.3" x2="336.5" y2="479.3" stroke="#111" stroke-width="1.3"/>
<line x1="236.5" y1="462.2" x2="236.5" y2="481.6" stroke="#2a2a2a" stroke-width="1.2"/>
<line x1="230.5" y1="462.2" x2="242.5" y2="462.2" stroke="#2a2a2a" stroke-width="1.4"/>
<line x1="230.5" y1="481.6" x2="242.5" y2="481.6" stroke="#2a2a2a" stroke-width="1.4"/>
<line x1="274.5" y1="436.2" x2="274.5" y2="471.2" stroke="#2a2a2a" stroke-width="1.2"/>
<line x1="268.1" y1="436.2" x2="280.1" y2="436.2" stroke="#2a2a2a" stroke-width="1.4"/>
<line x1="268.1" y1="471.2" x2="280.1" y2="471.2" stroke="#2a2a2a" stroke-width="1.4"/>
<line x1="311.5" y1="450.5" x2="311.5" y2="469.2" stroke="#2a2a2a" stroke-width="1.2"/>
<line x1="305.5" y1="450.5" x2="317.5" y2="450.5" stroke="#2a2a2a" stroke-width="1.4"/>
<line x1="305.5" y1="469.2" x2="317.5" y2="469.2" stroke="#2a2a2a" stroke-width="1.4"/>
<rect x="234.7" y="450.5" width="3.6" height="3.6" fill="#2fb34a"/>
<rect x="234.7" y="470.8" width="3.6" height="3.6" fill="#2fb34a"/>
<rect x="242.0" y="471.7" width="3.6" height="3.6" fill="#2fb34a"/>
<rect x="226.6" y="474.7" width="3.6" height="3.6" fill="#2fb34a"/>
<rect x="231.7" y="475.4" width="3.6" height="3.6" fill="#2fb34a"/>
<rect x="237.0" y="474.7" width="3.6" height="3.6" fill="#2fb34a"/>
<path d="M269.4 439.89 L273.6 439.89 L271.5 436.11 Z" fill="#1b4f8e"/>
<path d="M274.5 436.39 L278.70000000000005 436.39 L276.6 432.61 Z" fill="#1b4f8e"/>
<path d="M272.0 456.09 L276.20000000000005 456.09 L274.1 452.31 Z" fill="#1b4f8e"/>
<path d="M274.29999999999995 471.99 L278.5 471.99 L276.4 468.21000000000004 Z" fill="#1b4f8e"/>
<path d="M269.4 475.39 L273.6 475.39 L271.5 471.61 Z" fill="#1b4f8e"/>
<path d="M311.5 446.95 L313.35 448.8 L311.5 450.65000000000003 L309.65 448.8 Z" fill="#cf1029"/>
<path d="M308.9 453.45 L310.75 455.3 L308.9 457.15000000000003 L307.04999999999995 455.3 Z" fill="#cf1029"/>
<path d="M314.2 453.45 L316.05 455.3 L314.2 457.15000000000003 L312.34999999999997 455.3 Z" fill="#cf1029"/>
<path d="M309.2 469.34999999999997 L311.05 471.2 L309.2 473.05 L307.34999999999997 471.2 Z" fill="#cf1029"/>
<path d="M314.7 467.04999999999995 L316.55 468.9 L314.7 470.75 L312.84999999999997 468.9 Z" fill="#cf1029"/>
<line x1="237.9" y1="407.5" x2="310.6" y2="407.5" stroke="#3a3a3a" stroke-width="1.1"/>
<line x1="237.5" y1="405.5" x2="237.5" y2="409.9" stroke="#3a3a3a" stroke-width="1.1"/>
<line x1="310.5" y1="405.5" x2="310.5" y2="409.9" stroke="#3a3a3a" stroke-width="1.1"/>
<text x="274.25" y="404" font-size="8.5" text-anchor="middle" fill="#333" textLength="24.4" lengthAdjust="spacingAndGlyphs">P=0.07</text>
<line x1="237.9" y1="424.5" x2="272" y2="424.5" stroke="#3a3a3a" stroke-width="1.1"/>
<line x1="237.5" y1="421.8" x2="237.5" y2="426.2" stroke="#3a3a3a" stroke-width="1.1"/>
<line x1="272.5" y1="421.8" x2="272.5" y2="426.2" stroke="#3a3a3a" stroke-width="1.1"/>
<text x="254.95" y="418.7" font-size="8.5" text-anchor="middle" fill="#333" textLength="25.5" lengthAdjust="spacingAndGlyphs">P=0.062</text>
<text x="195.2" y="445.5" font-size="9.6" text-anchor="middle" fill="#1a1a1a" stroke="#1a1a1a" stroke-width="0.15" textLength="57.7" lengthAdjust="spacingAndGlyphs" transform="rotate(-90 195.2 445.5)">H2Kd/H2Kb ratio</text>
<text x="452" y="381.8" font-size="9.6" text-anchor="middle" fill="#111" textLength="18.6" lengthAdjust="spacingAndGlyphs">CD8</text>
<line x1="387.5" y1="397.6" x2="387.5" y2="495.2" stroke="#1a1a1a" stroke-width="1.1"/>
<line x1="384.3" y1="399.5" x2="387.6" y2="399.5" stroke="#1a1a1a" stroke-width="1.0"/>
<text x="381.7" y="402.85999999999996" font-size="8.5" text-anchor="end" fill="#1a1a1a" stroke="#1a1a1a" stroke-width="0.12">5</text>
<line x1="384.3" y1="418.5" x2="387.6" y2="418.5" stroke="#1a1a1a" stroke-width="1.0"/>
<text x="381.7" y="421.97999999999996" font-size="8.5" text-anchor="end" fill="#1a1a1a" stroke="#1a1a1a" stroke-width="0.12">4</text>
<line x1="384.3" y1="438.5" x2="387.6" y2="438.5" stroke="#1a1a1a" stroke-width="1.0"/>
<text x="381.7" y="441.09999999999997" font-size="8.5" text-anchor="end" fill="#1a1a1a" stroke="#1a1a1a" stroke-width="0.12">3</text>
<line x1="384.3" y1="457.5" x2="387.6" y2="457.5" stroke="#1a1a1a" stroke-width="1.0"/>
<text x="381.7" y="460.21999999999997" font-size="8.5" text-anchor="end" fill="#1a1a1a" stroke="#1a1a1a" stroke-width="0.12">2</text>
<line x1="384.3" y1="476.5" x2="387.6" y2="476.5" stroke="#1a1a1a" stroke-width="1.0"/>
<text x="381.7" y="479.34" font-size="8.5" text-anchor="end" fill="#1a1a1a" stroke="#1a1a1a" stroke-width="0.12">1</text>
<line x1="384.3" y1="495.5" x2="387.6" y2="495.5" stroke="#1a1a1a" stroke-width="1.0"/>
<text x="381.7" y="498.46" font-size="8.5" text-anchor="end" fill="#1a1a1a" stroke="#1a1a1a" stroke-width="0.12">0</text>
<line x1="385" y1="495.2" x2="513.75" y2="495.2" stroke="#1a1a1a" stroke-width="1.5"/>
<line x1="412.5" y1="495.2" x2="412.5" y2="497.5" stroke="#1a1a1a" stroke-width="1.0"/>
<line x1="450.5" y1="495.2" x2="450.5" y2="497.5" stroke="#1a1a1a" stroke-width="1.0"/>
<line x1="488.5" y1="495.2" x2="488.5" y2="497.5" stroke="#1a1a1a" stroke-width="1.0"/>
<rect x="400.4" y="480.9" width="24.400000000000034" height="14.300000000000011" fill="#a3d9a5"/>
<rect x="438" y="452" width="24.899999999999977" height="43.19999999999999" fill="#8aa7c4"/>
<rect x="476.1" y="478.5" width="24.899999999999977" height="16.69999999999999" fill="#e08898"/>
<line x1="412.5" y1="467.2" x2="412.5" y2="493.1" stroke="#2a2a2a" stroke-width="1.2"/>
<line x1="406.6" y1="467.2" x2="418.6" y2="467.2" stroke="#2a2a2a" stroke-width="1.4"/>
<line x1="406.6" y1="493.1" x2="418.6" y2="493.1" stroke="#2a2a2a" stroke-width="1.4"/>
<line x1="450.5" y1="421.1" x2="450.5" y2="482" stroke="#2a2a2a" stroke-width="1.2"/>
<line x1="444.7" y1="421.1" x2="456.7" y2="421.1" stroke="#2a2a2a" stroke-width="1.4"/>
<line x1="444.7" y1="482" x2="456.7" y2="482" stroke="#2a2a2a" stroke-width="1.4"/>
<line x1="488.5" y1="468.9" x2="488.5" y2="487.8" stroke="#2a2a2a" stroke-width="1.2"/>
<line x1="482.3" y1="468.9" x2="494.3" y2="468.9" stroke="#2a2a2a" stroke-width="1.4"/>
<line x1="482.3" y1="487.8" x2="494.3" y2="487.8" stroke="#2a2a2a" stroke-width="1.4"/>
<rect x="410.8" y="453.7" width="3.6" height="3.6" fill="#2fb34a"/>
<rect x="408.0" y="476.7" width="3.6" height="3.6" fill="#2fb34a"/>
<rect x="405.5" y="483.9" width="3.6" height="3.6" fill="#2fb34a"/>
<rect x="413.09999999999997" y="482.09999999999997" width="3.6" height="3.6" fill="#2fb34a"/>
<rect x="415.9" y="486.7" width="3.6" height="3.6" fill="#2fb34a"/>
<rect x="410.8" y="488.5" width="3.6" height="3.6" fill="#2fb34a"/>
<path d="M445.79999999999995 420.39 L450.0 420.39 L447.9 416.61 Z" fill="#1b4f8e"/>
<path d="M451.4 422.99 L455.6 422.99 L453.5 419.21000000000004 Z" fill="#1b4f8e"/>
<path d="M448.59999999999997 464.49 L452.8 464.49 L450.7 460.71000000000004 Z" fill="#1b4f8e"/>
<path d="M448.59999999999997 477.19 L452.8 477.19 L450.7 473.41 Z" fill="#1b4f8e"/>
<path d="M448.59999999999997 484.59 L452.8 484.59 L450.7 480.81 Z" fill="#1b4f8e"/>
<path d="M485.8 464.04999999999995 L487.65000000000003 465.9 L485.8 467.75 L483.95 465.9 Z" fill="#cf1029"/>
<path d="M491.1 468.65 L492.95000000000005 470.5 L491.1 472.35 L489.25 470.5 Z" fill="#cf1029"/>
<path d="M483.5 482.45 L485.35 484.3 L483.5 486.15000000000003 L481.65 484.3 Z" fill="#cf1029"/>
<path d="M493.9 483.15 L495.75 485 L493.9 486.85 L492.04999999999995 485 Z" fill="#cf1029"/>
<path d="M488.3 485.45 L490.15000000000003 487.3 L488.3 489.15000000000003 L486.45 487.3 Z" fill="#cf1029"/>
<line x1="414.5" y1="394.5" x2="487.5" y2="394.5" stroke="#3a3a3a" stroke-width="1.1"/>
<line x1="414.5" y1="392.2" x2="414.5" y2="396.59999999999997" stroke="#3a3a3a" stroke-width="1.1"/>
<line x1="487.5" y1="392.2" x2="487.5" y2="396.59999999999997" stroke="#3a3a3a" stroke-width="1.1"/>
<text x="451.0" y="390" font-size="7.6" text-anchor="middle" fill="#333">ns</text>
<line x1="414.5" y1="409.5" x2="448.75" y2="409.5" stroke="#3a3a3a" stroke-width="1.1"/>
<line x1="414.5" y1="407.3" x2="414.5" y2="411.7" stroke="#3a3a3a" stroke-width="1.1"/>
<line x1="448.5" y1="407.3" x2="448.5" y2="411.7" stroke="#3a3a3a" stroke-width="1.1"/>
<text x="431.625" y="405" font-size="8.5" text-anchor="middle" fill="#333" textLength="24.5" lengthAdjust="spacingAndGlyphs">P=0.07</text>
<text x="370.8" y="445" font-size="9.6" text-anchor="middle" fill="#1a1a1a" stroke="#1a1a1a" stroke-width="0.15" textLength="57.7" lengthAdjust="spacingAndGlyphs" transform="rotate(-90 370.8 445)">H2Kd/H2Kb ratio</text>
</svg>
</div></body></html>
